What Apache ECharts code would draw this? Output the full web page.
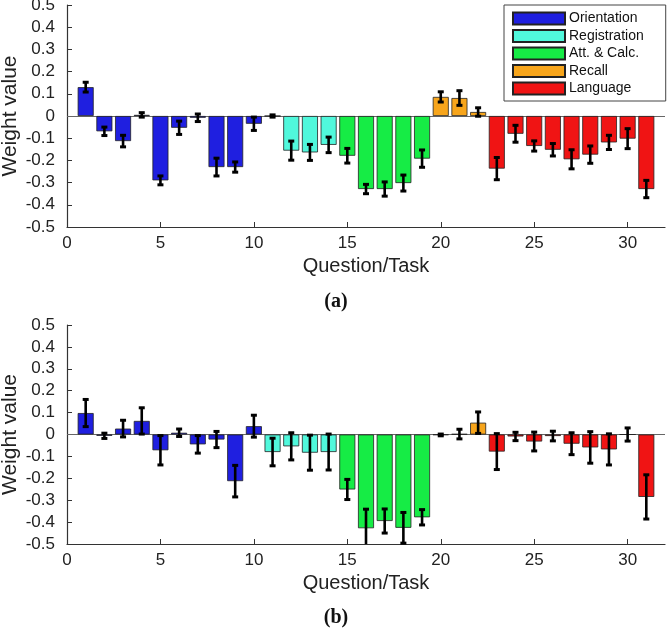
<!DOCTYPE html>
<html>
<head>
<meta charset="utf-8">
<script src="https://cdn.jsdelivr.net/npm/echarts@6/dist/echarts.min.js"></script>
<style>
html,body{margin:0;padding:0;background:#fff;}
#chart{width:672px;height:630px;}
</style>
</head>
<body>
<div id="chart"></div>
<script>
// Question/Task numbers
const questions = [1,2,3,4,5,6,7,8,9,10,11,12,13,14,15,16,17,18,19,20,21,22,23,24,25,26,27,28,29,30,31];
// group index of each question (0 Orientation, 1 Registration, 2 Att. & Calc., 3 Recall, 4 Language)
const groupOf = [0,0,0,0,0,0,0,0,0,0,1,1,1,1,2,2,2,2,2,3,3,3,4,4,4,4,4,4,4,4,4];
const groupNames = ['Orientation','Registration','Att. & Calc.','Recall','Language'];
const groupColors = ['#1f1fe0','#50f8dc','#16ec45','#f7a51b','#f01414'];

// panel (a)
const valuesA = [0.13,-0.069,-0.113,0.005,-0.29,-0.053,-0.008,-0.23,-0.23,-0.035,0.0,-0.156,-0.164,-0.13,-0.179,-0.329,-0.329,-0.302,-0.192,0.086,0.081,0.018,-0.237,-0.08,-0.135,-0.152,-0.195,-0.174,-0.119,-0.102,-0.329];
const errorsA = [0.022,0.019,0.026,0.01,0.02,0.03,0.017,0.04,0.023,0.03,0.005,0.043,0.036,0.035,0.033,0.021,0.032,0.036,0.039,0.023,0.033,0.019,0.05,0.038,0.023,0.028,0.043,0.039,0.032,0.045,0.039];
// panel (b)
const valuesB = [0.098,-0.006,0.027,0.062,-0.072,0.008,-0.045,-0.023,-0.213,0.038,-0.08,-0.054,-0.083,-0.08,-0.251,-0.428,-0.395,-0.426,-0.378,-0.002,0.002,0.054,-0.078,-0.009,-0.032,-0.007,-0.042,-0.059,-0.068,0.0,-0.285];
const errorsB = [0.062,0.012,0.038,0.06,0.067,0.017,0.04,0.037,0.072,0.05,0.063,0.062,0.08,0.082,0.046,0.087,0.055,0.07,0.035,0.004,0.022,0.049,0.082,0.019,0.043,0.022,0.05,0.072,0.071,0.03,0.101];

const yTicks = [-0.5,-0.4,-0.3,-0.2,-0.1,0,0.1,0.2,0.3,0.4,0.5];
const xMin = 0, xMax = 32, xStep = 5;

const FONT = 'Liberation Sans';
const chart = echarts.init(document.getElementById('chart'), null, {renderer:'canvas'});

function xAxisFor(i){
  return {
    gridIndex:i, type:'value', min:xMin, max:xMax, interval:xStep,
    name:'Question/Task', nameLocation:'middle', nameGap:29, nameMoveOverlap:false,
    nameTextStyle:{fontFamily:FONT,fontSize:20,color:'#222'},
    axisLine:{show:true,onZero:false,lineStyle:{color:'#333',width:1.2}},
    axisTick:{show:true,inside:true,length:5,lineStyle:{color:'#333'}},
    axisLabel:{showMaxLabel:false,margin:8,fontFamily:FONT,fontSize:17,color:'#222'},
    splitLine:{show:false}
  };
}
function yAxisFor(i){
  return {
    gridIndex:i, type:'value', min:yTicks[0], max:yTicks[yTicks.length-1], interval:0.1,
    name:'Weight value', nameLocation:'middle', nameGap:46, nameMoveOverlap:false,
    nameTextStyle:{fontFamily:FONT,fontSize:21,color:'#222'},
    axisLine:{show:true,lineStyle:{color:'#333',width:1.2}},
    axisTick:{show:true,inside:true,length:5,lineStyle:{color:'#333'}},
    axisLabel:{margin:12,fontFamily:FONT,fontSize:17,color:'#222',
      formatter:v=>{const r=Math.round(v*10)/10;return r===0?'0':r.toFixed(1);}},
    splitLine:{show:false}
  };
}

function barSeries(panel, values){
  const out=[];
  groupNames.forEach((name,g)=>{
    const data=[];
    questions.forEach((q,k)=>{ if(groupOf[k]===g) data.push([q, values[k]]); });
    const s={
      name:name, type:'bar', xAxisIndex:panel, yAxisIndex:panel,
      barWidth:16, barGap:'-100%', data:data,
      itemStyle:{color:groupColors[g],borderColor:'#222',borderWidth:0.8},
      emphasis:{disabled:true}, animation:false, z:2
    };
    if(g===0){
      s.markLine={silent:true,symbol:'none',label:{show:false},
        lineStyle:{color:'#666',type:'solid',width:1},data:[{yAxis:0}],z:1};
    }
    out.push(s);
  });
  return out;
}

function errSeries(panel, values, errors){
  const data = questions.map((q,k)=>[q, values[k]-errors[k], values[k]+errors[k]]);
  return {
    type:'custom', xAxisIndex:panel, yAxisIndex:panel, data:data, z:5, animation:false,
    silent:true,
    renderItem:function(params, api){
      const x=api.value(0);
      let lo=api.value(1), hi=api.value(2);
      const ymin=yTicks[0], ymax=yTicks[yTicks.length-1];
      const loClip = lo<ymin, hiClip = hi>ymax;
      lo=Math.max(lo,ymin); hi=Math.min(hi,ymax);
      const p1=api.coord([x,hi]), p2=api.coord([x,lo]);
      const st={stroke:'#000',lineWidth:2.6,fill:'#000'};
      const children=[{type:'line',shape:{x1:p1[0],y1:p1[1],x2:p2[0],y2:p2[1]},style:st}];
      if(!hiClip) children.push({type:'rect',shape:{x:p1[0]-3,y:p1[1]-1.5,width:6,height:3},style:{fill:'#000'}});
      if(!loClip) children.push({type:'rect',shape:{x:p2[0]-3,y:p2[1]-1.5,width:6,height:3},style:{fill:'#000'}});
      return {type:'group',children:children};
    }
  };
}

const option = {
  backgroundColor:'#fff',
  animation:false,
  textStyle:{fontFamily:FONT},
  grid:[
    {left:67,right:7,top:5,height:222,containLabel:false,outerBoundsMode:'none'},
    {left:67,right:7,top:325,height:219,containLabel:false,outerBoundsMode:'none'}
  ],
  xAxis:[xAxisFor(0),xAxisFor(1)],
  yAxis:[yAxisFor(0),yAxisFor(1)],
  title:[
    {text:'(a)',left:'center',top:292,textStyle:{fontFamily:'Liberation Serif',fontWeight:'bold',fontSize:20,color:'#111'},padding:0},
    {text:'(b)',left:'center',top:608,textStyle:{fontFamily:'Liberation Serif',fontWeight:'bold',fontSize:20,color:'#111'},padding:0}
  ],
  legend:{
    data:groupNames, orient:'vertical', left:504, top:5,
    backgroundColor:'#fff', borderColor:'#444', borderWidth:1,
    padding:[5,22,4,8], itemWidth:52, itemHeight:12, itemGap:0.5,
    icon:'rect', selectedMode:false,
    textStyle:{fontFamily:FONT,fontSize:14,color:'#111',lineHeight:17,padding:[0,0,0,-1]}
  },
  series:[].concat(
    barSeries(0,valuesA), [errSeries(0,valuesA,errorsA)],
    barSeries(1,valuesB), [errSeries(1,valuesB,errorsB)]
  )
};
chart.setOption(option);
</script>
</body>
</html>
